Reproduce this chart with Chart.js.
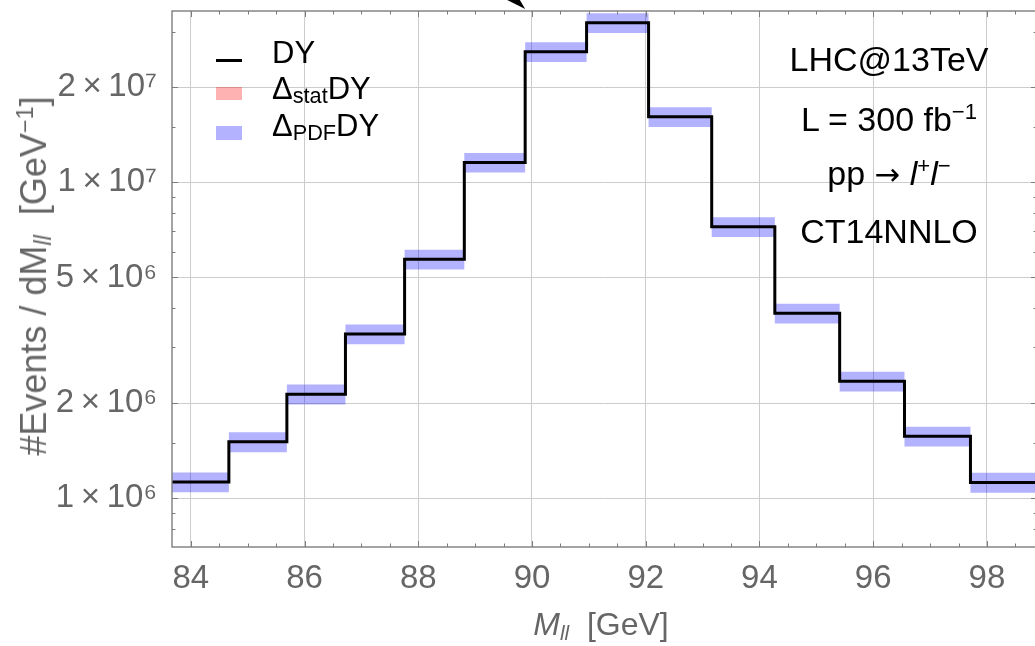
<!DOCTYPE html>
<html>
<head>
<meta charset="utf-8">
<script src="https://cdn.jsdelivr.net/npm/chart.js@4/dist/chart.umd.min.js"></script>
<style>
  html, body { margin: 0; padding: 0; background: #fff; overflow: hidden; }
  #wrap { position: relative; width: 1040px; height: 646px; font-family: "Liberation Sans", Arial, sans-serif; }
  #wrap canvas { position: absolute; left: 0; top: 0; }
  .lbl { position: absolute; white-space: nowrap; line-height: 1; }
  .lbl sup, .lbl sub { font-size: 0.65em; line-height: 0; position: relative; vertical-align: baseline; }
  .lbl sup { top: -0.55em; }
  .lbl sub { top: 0.22em; }
  .note { font-size: 34px; color: #000; transform: translateX(-50%); }
  .arrow { font-family: "DejaVu Sans", sans-serif; font-size: 0.9em; }
  .leg { font-size: 31px; color: #000; left: 272px; }
  .leg sub { font-size: 0.7em; top: 0.2em; }
  .swatch { position: absolute; left: 216px; width: 26px; }
  .axt { color: #666; }
</style>
</head>
<body>
<div id="wrap">
  <canvas id="dyChart" width="1040" height="646"></canvas>

  <!-- legend -->
  <div class="swatch" style="top:59px;height:3px;background:#000;"></div>
  <div class="lbl leg" style="top:37px;">DY</div>
  <div class="swatch" style="top:87px;height:13px;background:rgba(255,0,0,0.3);"></div>
  <div class="lbl leg" style="top:73px;">&Delta;<sub>stat</sub>DY</div>
  <div class="swatch" style="top:126px;height:14px;background:rgba(0,0,255,0.3);"></div>
  <div class="lbl leg" style="top:110px;">&Delta;<sub>PDF</sub>DY</div>

  <!-- run info -->
  <div class="lbl note" style="left:889px;top:42px;">LHC@13TeV</div>
  <div class="lbl note" style="left:889px;top:102px;">L = 300 fb<sup>&minus;1</sup></div>
  <div class="lbl note" style="left:889px;top:156px;">pp <span class="arrow">&rarr;</span> <i>l</i><sup>+</sup><i>l</i><sup>&minus;</sup></div>
  <div class="lbl note" style="left:889px;top:214px;">CT14NNLO</div>

  <!-- axis titles -->
  <div class="lbl axt" style="font-size:36px;left:34px;top:276px;transform:translate(-50%,-50%) rotate(-90deg);">#Events / dM<sub><i>ll</i></sub>&nbsp; [GeV<sup>&minus;1</sup>]</div>
  <div class="lbl axt" style="font-size:32px;left:601px;top:624px;transform:translate(-50%,-50%);"><i>M</i><sub><i>ll</i></sub>&nbsp;&nbsp;[GeV]</div>
</div>

<script>
// drell-yan invariant mass spectrum around the Z peak

// bin edges in GeV (15 edges -> 14 bins)
const binEdges = [83.67, 84.67, 85.69, 86.72, 87.76, 88.81, 89.88, 90.96,
                  92.05, 93.16, 94.27, 95.41, 96.55, 97.71, 98.88];

// events / dM per bin
const dyEvents = [1.125e6, 1.507e6, 2.134e6, 3.31e6, 5.71e6, 1.157e7, 2.594e7,
                  3.205e7, 1.614e7, 7.23e6, 3.85e6, 2.346e6, 1.571e6, 1.121e6];

// pdf uncertainty band, lower / upper edge
const pdfLow  = [1.044e6, 1.398e6, 1.980e6, 3.072e6, 5.299e6, 1.074e7, 2.407e7,
                 2.974e7, 1.498e7, 6.709e6, 3.573e6, 2.177e6, 1.458e6, 1.040e6];
const pdfHigh = [1.206e6, 1.615e6, 2.288e6, 3.548e6, 6.121e6, 1.240e7, 2.781e7,
                 3.436e7, 1.730e7, 7.751e6, 4.127e6, 2.515e6, 1.684e6, 1.202e6];

// ticks
const xMajorTicks = [84, 86, 88, 90, 92, 94, 96, 98];
const xMinorTicks = [84.5, 85, 85.5, 86.5, 87, 87.5, 88.5, 89, 89.5, 90.5, 91, 91.5,
                     92.5, 93, 93.5, 94.5, 95, 95.5, 96.5, 97, 97.5, 98.5];
const yMajorTicks = [1e6, 2e6, 5e6, 1e7, 2e7];
const yMinorTicks = [8e5, 9e5, 1.5e6, 3e6, 4e6, 6e6, 7e6, 8e6, 9e6, 1.5e7, 3e7];

const font = "'Liberation Sans', Arial, sans-serif";
const tickColor = "#666";
const gridColor = "#cccccc";
const frameColor = "#7d7d7d";

// the arrow tip poking in from above the frame (points at the 89.88 edge)
const arrowTipX = 89.88;

const supDigits = { 5: "\u2075", 6: "\u2076", 7: "\u2077", 8: "\u2078" };

function yLabel(v) {
  if (!yMajorTicks.includes(v)) return "";
  const e = Math.floor(Math.log10(v) + 1e-9);
  const m = Math.round(v / Math.pow(10, e));
  return m + "\u2009\u00d7\u200910" + supDigits[e];
}

// histogram as step points: one point per lower edge, plus the last upper edge
function stepPoints(vals) {
  return binEdges.map((e, i) => ({ x: e, y: vals[Math.min(i, vals.length - 1)] }));
}

// frame + inward tick marks on all four sides
const frameTicks = {
  id: "frameTicks",
  afterDatasetsDraw(chart) {
    const { ctx, chartArea: a, scales: { x, y } } = chart;
    ctx.save();
    ctx.strokeStyle = frameColor;
    ctx.lineWidth = 1;
    ctx.beginPath();
    const xt = (vals, len) => vals.forEach(v => {
      const p = Math.round(x.getPixelForValue(v)) + 0.5;
      ctx.moveTo(p, a.bottom); ctx.lineTo(p, a.bottom - len);
      ctx.moveTo(p, a.top); ctx.lineTo(p, a.top + len);
    });
    const yt = (vals, len) => vals.forEach(v => {
      const p = Math.round(y.getPixelForValue(v)) + 0.5;
      ctx.moveTo(a.left, p); ctx.lineTo(a.left + len, p);
      ctx.moveTo(a.right, p); ctx.lineTo(a.right - len, p);
    });
    xt(xMajorTicks, 6); xt(xMinorTicks, 3.5);
    yt(yMajorTicks, 6); yt(yMinorTicks, 3.5);
    ctx.stroke();

    ctx.lineWidth = 1.4;
    ctx.strokeRect(a.left, a.top, a.right - a.left, a.bottom - a.top);

    // arrow head
    const tx = x.getPixelForValue(arrowTipX), ty = a.top - 2;
    ctx.fillStyle = "#000";
    ctx.beginPath();
    ctx.moveTo(tx, ty);
    ctx.lineTo(tx - 34, ty - 17);
    ctx.lineTo(tx - 10, ty - 17);
    ctx.closePath();
    ctx.fill();
    ctx.restore();
  }
};

const canvas = document.getElementById("dyChart");

new Chart(canvas, {
  type: "line",
  data: {
    datasets: [
      {
        label: "DY",
        data: stepPoints(dyEvents),
        stepped: "before",
        borderColor: "#000",
        borderWidth: 3,
        borderJoinStyle: "miter",
        pointRadius: 0,
        fill: false,
        order: 0
      },
      {
        label: "PDF low",
        data: stepPoints(pdfLow),
        stepped: "before",
        borderWidth: 0,
        borderColor: "rgba(0,0,0,0)",
        pointRadius: 0,
        fill: false,
        order: 2
      },
      {
        label: "\u0394PDF DY",
        data: stepPoints(pdfHigh),
        stepped: "before",
        borderWidth: 0,
        borderColor: "rgba(0,0,0,0)",
        backgroundColor: "rgba(0,0,255,0.3)",
        pointRadius: 0,
        fill: "-1",
        order: 1
      }
    ]
  },
  options: {
    responsive: false,
    animation: false,
    layout: { padding: { top: 11, right: 3, left: 0, bottom: 0 } },
    plugins: {
      legend: { display: false },
      tooltip: { enabled: false }
    },
    scales: {
      x: {
        type: "linear",
        min: binEdges[0],
        max: binEdges[binEdges.length - 1],
        afterBuildTicks: s => {
          s.ticks = xMajorTicks.concat(xMinorTicks).sort((a, b) => a - b).map(v => ({ value: v }));
        },
        afterFit: s => { s.height = 99; s.paddingLeft = 0; s.paddingRight = 0; },
        border: { display: false },
        grid: {
          drawTicks: false,
          color: c => (c.tick && xMajorTicks.includes(c.tick.value)) ? gridColor : "rgba(0,0,0,0)"
        },
        ticks: {
          autoSkip: false,
          maxRotation: 0,
          padding: 12,
          color: tickColor,
          font: { family: font, size: 33 },
          callback: v => xMajorTicks.includes(v) ? String(v) : ""
        }
      },
      y: {
        type: "logarithmic",
        min: 7e5,
        max: 3.49e7,
        afterBuildTicks: s => {
          s.ticks = yMajorTicks.concat(yMinorTicks).sort((a, b) => a - b).map(v => ({ value: v }));
        },
        afterFit: s => { s.width = 172; s.paddingTop = 0; s.paddingBottom = 0; },
        border: { display: false },
        grid: {
          drawTicks: false,
          color: c => (c.tick && yMajorTicks.includes(c.tick.value)) ? gridColor : "rgba(0,0,0,0)"
        },
        ticks: {
          autoSkip: false,
          padding: 15,
          color: tickColor,
          font: { family: font, size: 33 },
          callback: v => yLabel(v)
        }
      }
    }
  },
  plugins: [frameTicks]
});
</script>
</body>
</html>
